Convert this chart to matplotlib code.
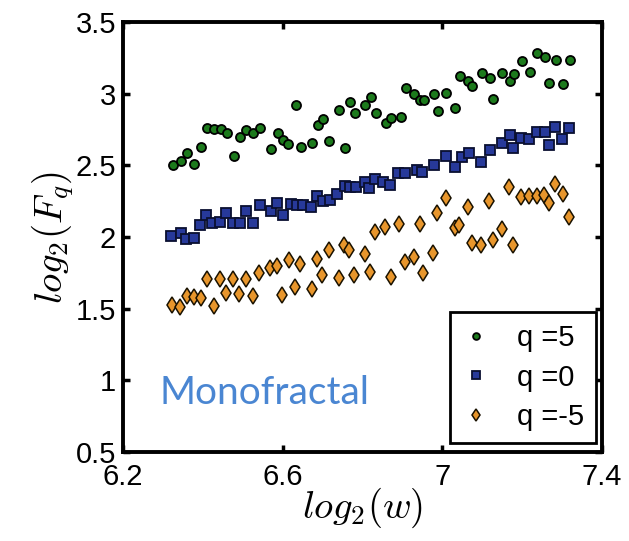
import matplotlib
matplotlib.use("Agg")
import matplotlib.pyplot as plt

plt.rcParams['font.family'] = ['Liberation Sans', 'DejaVu Sans']
plt.rcParams['mathtext.fontset'] = 'cm'

# q = 5
x_q5 = [6.324, 6.344, 6.360, 6.377, 6.396, 6.411, 6.429, 6.445, 6.461, 6.477,
        6.493, 6.508, 6.526, 6.543, 6.571, 6.587, 6.600, 6.614, 6.633, 6.645,
        6.674, 6.688, 6.700, 6.716, 6.742, 6.756, 6.768, 6.782, 6.807, 6.820,
        6.833, 6.859, 6.872, 6.896, 6.908, 6.930, 6.945, 6.953, 6.979, 6.989,
        7.010, 7.032, 7.045, 7.065, 7.075, 7.099, 7.120, 7.128, 7.150, 7.170,
        7.180, 7.199, 7.220, 7.238, 7.258, 7.268, 7.284, 7.303, 7.320]
y_q5 = [2.502, 2.532, 2.586, 2.509, 2.628, 2.758, 2.751, 2.751, 2.725, 2.565,
        2.700, 2.746, 2.723, 2.758, 2.614, 2.723, 2.677, 2.647, 2.919, 2.630,
        2.658, 2.781, 2.821, 2.667, 2.886, 2.623, 2.942, 2.867, 2.919, 2.977,
        2.867, 2.793, 2.830, 2.837, 3.037, 2.995, 2.958, 2.956, 2.995, 2.879,
        3.002, 2.898, 3.123, 3.090, 3.055, 3.142, 3.107, 2.963, 3.142, 3.088,
        3.135, 3.228, 3.148, 3.284, 3.258, 3.076, 3.235, 3.067, 3.235]

# q = 0
x_q0 = [6.319, 6.344, 6.358, 6.377, 6.394, 6.409, 6.422, 6.442, 6.459, 6.476,
        6.493, 6.508, 6.525, 6.542, 6.570, 6.585, 6.600, 6.620, 6.636, 6.652,
        6.671, 6.687, 6.700, 6.718, 6.737, 6.756, 6.769, 6.784, 6.807, 6.817,
        6.832, 6.851, 6.869, 6.890, 6.907, 6.936, 6.949, 6.979, 7.010, 7.032,
        7.050, 7.068, 7.097, 7.120, 7.149, 7.170, 7.177, 7.198, 7.218, 7.237,
        7.258, 7.266, 7.283, 7.300, 7.318]
y_q0 = [2.007, 2.028, 1.986, 1.996, 2.083, 2.153, 2.095, 2.108, 2.165, 2.097,
        2.099, 2.183, 2.095, 2.223, 2.183, 2.235, 2.153, 2.233, 2.223, 2.223,
        2.212, 2.289, 2.251, 2.256, 2.302, 2.356, 2.351, 2.351, 2.386, 2.340,
        2.402, 2.386, 2.363, 2.444, 2.444, 2.467, 2.455, 2.502, 2.565, 2.490,
        2.558, 2.586, 2.525, 2.607, 2.656, 2.711, 2.624, 2.688, 2.684, 2.734,
        2.732, 2.642, 2.771, 2.686, 2.760]

# q = -5
x_qm5 = [6.322, 6.343, 6.360, 6.377, 6.395, 6.410, 6.427, 6.442, 6.458, 6.476,
         6.491, 6.508, 6.525, 6.540, 6.568, 6.586, 6.599, 6.615, 6.631, 6.644,
         6.673, 6.685, 6.698, 6.715, 6.741, 6.753, 6.767, 6.779, 6.807, 6.818,
         6.832, 6.857, 6.872, 6.892, 6.906, 6.929, 6.943, 6.952, 6.977, 6.986,
         7.008, 7.032, 7.042, 7.065, 7.075, 7.097, 7.117, 7.127, 7.149, 7.168,
         7.178, 7.197, 7.217, 7.237, 7.255, 7.266, 7.281, 7.302, 7.318]
y_qm5 = [1.529, 1.515, 1.591, 1.581, 1.575, 1.708, 1.516, 1.709, 1.609, 1.709,
         1.602, 1.709, 1.586, 1.748, 1.781, 1.795, 1.597, 1.839, 1.651, 1.813,
         1.638, 1.845, 1.737, 1.909, 1.714, 1.942, 1.907, 1.737, 1.881, 1.758,
         2.037, 2.072, 1.723, 2.090, 1.827, 1.858, 2.090, 1.746, 1.890, 2.165,
         2.270, 2.060, 2.083, 2.207, 1.960, 1.944, 2.253, 1.979, 2.053, 2.346,
         1.944, 2.281, 2.288, 2.288, 2.293, 2.239, 2.370, 2.300, 2.141]

fig = plt.figure(figsize=(6.29, 5.41), dpi=100)
ax = fig.add_axes([0.1956, 0.1645, 0.7615, 0.7948])

ax.plot(x_q5, y_q5, 'o', color='#1c7a1c', markeredgecolor='k', markeredgewidth=1.3,
        markersize=6.5, label='q =5')
ax.plot(x_q0, y_q0, 's', color='#27399a', markeredgecolor='#0a0f30', markeredgewidth=1.3,
        markersize=7, label='q =0')
ax.plot(x_qm5, y_qm5, 'd', color='#e8962c', markeredgecolor='#1a1200', markeredgewidth=1.1,
        markersize=8, label='q =-5')

ax.set_xlim(6.2, 7.4)
ax.set_ylim(0.5, 3.5)
ax.set_xticks([6.2, 6.6, 7.0, 7.4])
ax.set_xticklabels(['6.2', '6.6', '7', '7.4'])
ax.set_yticks([0.5, 1, 1.5, 2, 2.5, 3, 3.5])
ax.set_yticklabels(['0.5', '1', '1.5', '2', '2.5', '3', '3.5'])
ax.tick_params(direction='in', length=5, width=2.5, labelsize=21,
               top=True, right=True, pad=5)
ax.tick_params(axis='x', pad=8)
for s in ax.spines.values():
    s.set_linewidth(2.8)

ax.set_xlabel(r'$log_2(w)$', fontsize=28, labelpad=-4)
ax.set_ylabel(r'$log_2(F_q)$', fontsize=28, labelpad=0)

leg = ax.legend(loc='lower right', bbox_to_anchor=(0.987, 0.021), fontsize=21,
                markerscale=0.75, handlelength=1.0, handletextpad=0.9,
                labelspacing=0.4, borderpad=0.4, borderaxespad=0,
                fancybox=False, framealpha=1)
leg.get_frame().set_edgecolor('k')
leg.get_frame().set_linewidth(2)

ax.text(0.077, 0.112, 'Monofractal', transform=ax.transAxes, fontsize=28,
        color='#4a86d2', family=['Lato', 'DejaVu Sans'], va='baseline')

fig.savefig('out.png', dpi=100)
